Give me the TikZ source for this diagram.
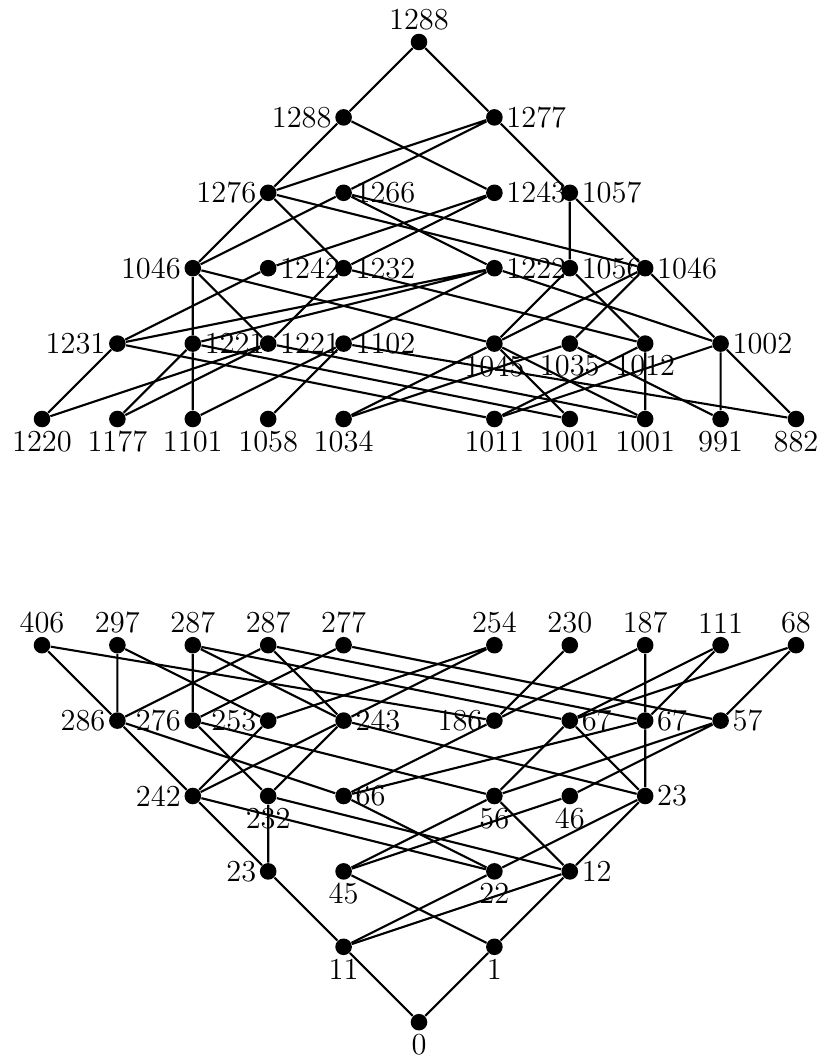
\documentclass[tikz,border=0pt]{standalone}
\usepackage{tikz}

\begin{document}
\begin{tikzpicture}[
    vtx/.style={circle, fill=black, inner sep=0pt, minimum size=0.22cm},
    every label/.style={inner sep=1pt, font=\fontsize{11.5}{13}\selectfont},
    label distance=0pt,
    edge/.style={thick}
]
    \useasboundingbox (-0.557,0.557) rectangle (10.371,-13.528);

    % Upper lattice, rows 0-2
    \node[vtx, label=above:1288] (T0) at (5,0) {};
    \node[vtx, label=left:1288] (Ta) at (4,-1) {};
    \node[vtx, label=right:1277] (Tb) at (6,-1) {};
    \node[vtx, label=left:1276] (T1276) at (3,-2) {};
    \node[vtx, label=right:1266] (T1266) at (4,-2) {};
    \node[vtx, label=right:1243] (T1243) at (6,-2) {};
    \node[vtx, label=right:1057] (T1057) at (7,-2) {};

    % Upper lattice, row 3
    \node[vtx, label=left:1046] (T1046l) at (2,-3) {};
    \node[vtx, label=right:1242] (T1242) at (3,-3) {};
    \node[vtx, label=right:1232] (T1232) at (4,-3) {};
    \node[vtx, label=right:1222] (T1222) at (6,-3) {};
    \node[vtx, label=right:1056] (T1056) at (7,-3) {};
    \node[vtx, label=right:1046] (T1046r) at (8,-3) {};

    % Upper lattice, row 4
    \node[vtx, label=left:1231] (T1231) at (1,-4) {};
    \node[vtx, label=right:1221] (T1221l) at (2,-4) {};
    \node[vtx, label=right:1221] (T1221r) at (3,-4) {};
    \node[vtx, label=right:1102] (T1102) at (4,-4) {};
    \node[vtx, label=below:1045] (T1045) at (6,-4) {};
    \node[vtx, label=below:1035] (T1035) at (7,-4) {};
    \node[vtx, label=below:1012] (T1012) at (8,-4) {};
    \node[vtx, label=right:1002] (T1002) at (9,-4) {};

    % Upper lattice, bottom row
    \node[vtx, label=below:1220] (T1220) at (0,-5) {};
    \node[vtx, label=below:1177] (T1177) at (1,-5) {};
    \node[vtx, label=below:1101] (T1101) at (2,-5) {};
    \node[vtx, label=below:1058] (T1058) at (3,-5) {};
    \node[vtx, label=below:1034] (T1034) at (4,-5) {};
    \node[vtx, label=below:1011] (T1011) at (6,-5) {};
    \node[vtx, label=below:1001] (T1001l) at (7,-5) {};
    \node[vtx, label=below:1001] (T1001r) at (8,-5) {};
    \node[vtx, label=below:991] (T991) at (9,-5) {};
    \node[vtx, label=below:882] (T882) at (10,-5) {};

    % Upper lattice, edges
    \draw[edge] (T0) -- (Ta) (T0) -- (Tb);
    \draw[edge] (Ta) -- (T1276) (Ta) -- (T1243);
    \draw[edge] (Tb) -- (T1276) (Tb) -- (T1266) (Tb) -- (T1057);
    \draw[edge] (T1276) -- (T1046l) (T1276) -- (T1232) (T1276) -- (T1056);
    \draw[edge] (T1266) -- (T1046l) (T1266) -- (T1222) (T1266) -- (T1046r);
    \draw[edge] (T1243) -- (T1242) (T1243) -- (T1232);
    \draw[edge] (T1057) -- (T1056) (T1057) -- (T1046r);
    \draw[edge] (T1046l) -- (T1221l) (T1046l) -- (T1221r) (T1046l) -- (T1045);
    \draw[edge] (T1242) -- (T1231);
    \draw[edge] (T1232) -- (T1221r) (T1232) -- (T1012);
    \draw[edge] (T1222) -- (T1231) (T1222) -- (T1221l) (T1222) -- (T1102) (T1222) -- (T1002);
    \draw[edge] (T1056) -- (T1045) (T1056) -- (T1012);
    \draw[edge] (T1046r) -- (T1045) (T1046r) -- (T1035) (T1046r) -- (T1002);
    \draw[edge] (T1231) -- (T1220) (T1231) -- (T1011);
    \draw[edge] (T1221l) -- (T1177) (T1221l) -- (T1101) (T1221l) -- (T1001l);
    \draw[edge] (T1221r) -- (T1220) (T1221r) -- (T1177) (T1221r) -- (T1001r);
    \draw[edge] (T1102) -- (T1101) (T1102) -- (T1058) (T1102) -- (T882);
    \draw[edge] (T1045) -- (T1034) (T1045) -- (T1001l) (T1045) -- (T1001r);
    \draw[edge] (T1035) -- (T1034) (T1035) -- (T991);
    \draw[edge] (T1012) -- (T1011) (T1012) -- (T1001r);
    \draw[edge] (T1002) -- (T1011) (T1002) -- (T991) (T1002) -- (T882);

    % Lower lattice, top row
    \node[vtx, label=above:406] (B406) at (0,-8) {};
    \node[vtx, label=above:297] (B297) at (1,-8) {};
    \node[vtx, label=above:287] (B287l) at (2,-8) {};
    \node[vtx, label=above:287] (B287r) at (3,-8) {};
    \node[vtx, label=above:277] (B277) at (4,-8) {};
    \node[vtx, label=above:254] (B254) at (6,-8) {};
    \node[vtx, label=above:230] (B230) at (7,-8) {};
    \node[vtx, label=above:187] (B187) at (8,-8) {};
    \node[vtx, label=above:111] (B111) at (9,-8) {};
    \node[vtx, label=above:68] (B68) at (10,-8) {};

    % Lower lattice, row 9
    \node[vtx, label=left:286] (B286) at (1,-9) {};
    \node[vtx, label=left:276] (B276) at (2,-9) {};
    \node[vtx, label=left:253] (B253) at (3,-9) {};
    \node[vtx, label=right:243] (B243) at (4,-9) {};
    \node[vtx, label=left:186] (B186) at (6,-9) {};
    \node[vtx, label=right:67] (B67l) at (7,-9) {};
    \node[vtx, label=right:67] (B67r) at (8,-9) {};
    \node[vtx, label=right:57] (B57) at (9,-9) {};

    % Lower lattice, row 10
    \node[vtx, label=left:242] (B242) at (2,-10) {};
    \node[vtx, label=below:232] (B232) at (3,-10) {};
    \node[vtx, label=right:66] (B66) at (4,-10) {};
    \node[vtx, label=below:56] (B56) at (6,-10) {};
    \node[vtx, label=below:46] (B46) at (7,-10) {};
    \node[vtx, label=right:23] (B23t) at (8,-10) {};

    % Lower lattice, rows 11-13
    \node[vtx, label=left:23] (B23b) at (3,-11) {};
    \node[vtx, label=below:45] (B45) at (4,-11) {};
    \node[vtx, label=below:22] (B22) at (6,-11) {};
    \node[vtx, label=right:12] (B12) at (7,-11) {};
    \node[vtx, label=below:11] (B11) at (4,-12) {};
    \node[vtx, label=below:1] (B1) at (6,-12) {};
    \node[vtx, label=below:0] (B0) at (5,-13) {};

    % Lower lattice, edges
    \draw[edge] (B406) -- (B286) (B406) -- (B186);
    \draw[edge] (B297) -- (B286) (B297) -- (B253);
    \draw[edge] (B287l) -- (B276) (B287l) -- (B243) (B287l) -- (B67l);
    \draw[edge] (B287r) -- (B286) (B287r) -- (B243) (B287r) -- (B67r);
    \draw[edge] (B277) -- (B276) (B277) -- (B57);
    \draw[edge] (B254) -- (B253) (B254) -- (B243);
    \draw[edge] (B230) -- (B186);
    \draw[edge] (B187) -- (B186) (B187) -- (B67r);
    \draw[edge] (B111) -- (B67l) (B111) -- (B67r);
    \draw[edge] (B68) -- (B67l) (B68) -- (B57);
    \draw[edge] (B286) -- (B242) (B286) -- (B66);
    \draw[edge] (B276) -- (B232) (B276) -- (B56);
    \draw[edge] (B253) -- (B242);
    \draw[edge] (B243) -- (B242) (B243) -- (B232) (B243) -- (B23t);
    \draw[edge] (B186) -- (B66);
    \draw[edge] (B67l) -- (B56) (B67l) -- (B23t);
    \draw[edge] (B67r) -- (B66) (B67r) -- (B23t);
    \draw[edge] (B57) -- (B56) (B57) -- (B46);
    \draw[edge] (B242) -- (B23b) (B242) -- (B22);
    \draw[edge] (B232) -- (B23b) (B232) -- (B12);
    \draw[edge] (B66) -- (B22);
    \draw[edge] (B56) -- (B45) (B56) -- (B12);
    \draw[edge] (B46) -- (B45);
    \draw[edge] (B23t) -- (B22) (B23t) -- (B12);
    \draw[edge] (B23b) -- (B11);
    \draw[edge] (B45) -- (B1);
    \draw[edge] (B22) -- (B11);
    \draw[edge] (B12) -- (B11) (B12) -- (B1);
    \draw[edge] (B11) -- (B0) (B1) -- (B0);
\end{tikzpicture}
\end{document}
